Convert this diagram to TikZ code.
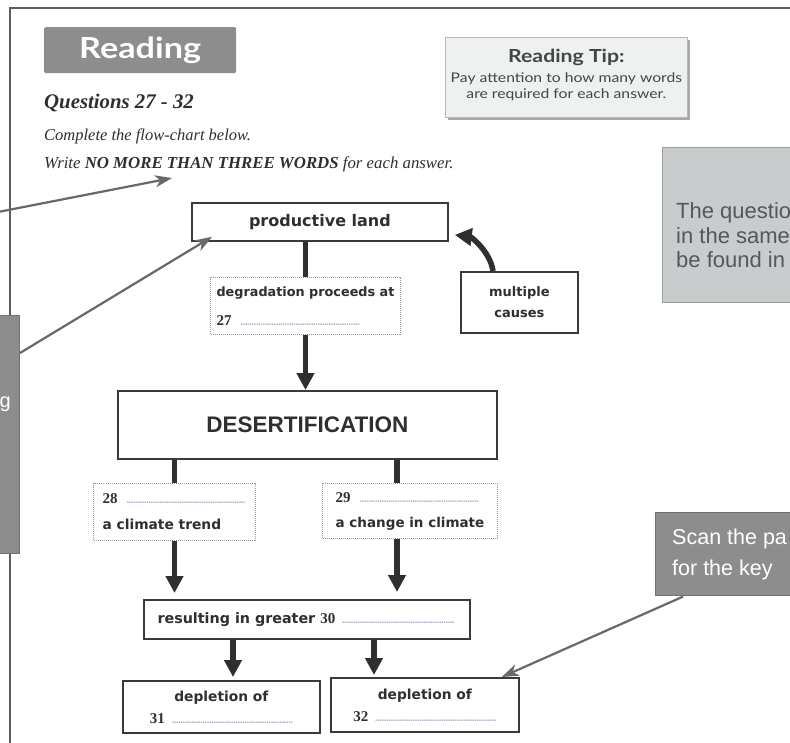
\documentclass[tikz,border=0pt]{standalone}
\usepackage{fontspec}
\setmainfont{Liberation Serif}
\newfontfamily\gillf[FakeStretch=1.18]{Lato}
\newfontfamily\flowf{DejaVu Sans}
\newfontfamily\helvf{Liberation Sans}
\usetikzlibrary{arrows.meta,calc,shadows}

\definecolor{framec}{HTML}{5E5E5E}
\definecolor{panelgrey}{HTML}{8D8D8D}
\definecolor{panellight}{HTML}{C9CCCC}
\definecolor{panelline}{HTML}{9C9E9E}
\definecolor{tipfill}{HTML}{EFF1F1}
\definecolor{inkc}{HTML}{2F2F2F}
\definecolor{boxc}{HTML}{3A3A3A}
\definecolor{dotc}{HTML}{AEB3C8}
\definecolor{pointerc}{HTML}{686868}
\definecolor{softtext}{HTML}{555858}

% dotted gap to be filled in by the reader
\newcommand\answerline[1]{{\color{dotc}\fontsize{8}{8}\selectfont\leaders\hbox to 2.2pt{\hss.\hss}\hskip#1\relax}}
% question number in the serif face
\newcommand\qnum[1]{{\rmfamily\bfseries\fontsize{15}{15}\selectfont #1}}

\begin{document}
\begin{tikzpicture}[x=1pt,y=-1pt,
  solidbox/.style={draw=boxc, line width=1.8pt, fill=white, inner sep=0pt,
    text=inkc, font=\flowf\bfseries\fontsize{13.8}{15}\selectfont},
  gapbox/.style={solidbox, draw=gray!80, line width=1pt, dash pattern=on 1pt off 1pt},
  flowarrow/.style={draw=inkc, line width=5.5pt, -{Triangle[width=17pt,length=17pt]}},
  flowstem/.style={draw=inkc, line width=5.5pt},
  pointer/.style={draw=pointerc, line width=2.2pt, -{Stealth[width=12pt,length=17pt,inset=5pt]}},
  sidepanel/.style={fill=panelgrey, draw=panelgrey!80!black, line width=0.6pt, inner sep=0pt},
  plaintext/.style={inner sep=0pt, anchor=base west},
]
\clip (0,0) rectangle (790,742);
\fill[white] (0,0) rectangle (790,742);

% page frame
\draw[framec, line width=2pt] (10,745) -- (10,8) -- (795,8);

% heading
\node[fill=panelgrey, rounded corners=1.5pt, anchor=north west, minimum width=192pt,
      minimum height=46pt, inner sep=0pt, text=white,
      font=\gillf\bfseries\fontsize{29}{30}\selectfont] (heading) at (44,27) {Reading};

\node[plaintext, font=\bfseries\itshape\fontsize{20.8}{21}\selectfont, text=inkc]
  (questions) at (44,108) {Questions 27 - 32};
\node[plaintext, font=\itshape\fontsize{16.5}{17}\selectfont, text=inkc]
  (complete) at (44,140) {Complete the flow-chart below.};
\node[plaintext, font=\itshape\fontsize{16.8}{17}\selectfont, text=inkc]
  (writeline) at (44,168) {Write \textbf{NO MORE THAN THREE WORDS} for each answer.};

% reading tip
\node[fill=tipfill, draw=gray!55, line width=0.8pt, anchor=north west,
      minimum width=242pt, minimum height=80pt, inner sep=0pt,
      drop shadow={shadow xshift=3pt, shadow yshift=-3pt, fill=gray!85, opacity=0.8}]
  (tipbox) at (445,37) {};
\node[inner sep=0pt, anchor=base, text=softtext!80!black,
      font=\gillf\bfseries\fontsize{18}{18}\selectfont]
  (tiptitle) at ($(tipbox.north)+(0,25)$) {Reading Tip:};
\node[inner sep=0pt, anchor=base, text=softtext!80!black,
      font=\gillf\fontsize{13.3}{14}\selectfont]
  (tipone) at ($(tipbox.north)+(0,45)$) {Pay attention to how many words};
\node[inner sep=0pt, anchor=base, text=softtext!80!black,
      font=\gillf\fontsize{13.3}{14}\selectfont]
  (tiptwo) at ($(tipbox.north)+(0,61)$) {are required for each answer.};

% side notes
\node[fill=panellight, draw=panelline, line width=0.8pt, anchor=north west,
      minimum width=140pt, minimum height=155pt, inner sep=0pt] (notebox) at (662,147) {};
\node[plaintext, text=softtext, font=\helvf\fontsize{22}{24}\selectfont]
  (noteone) at ($(notebox.north west)+(14,71)$) {The questio};
\node[plaintext, text=softtext, font=\helvf\fontsize{22}{24}\selectfont]
  (notetwo) at ($(notebox.north west)+(14,96)$) {in the same};
\node[plaintext, text=softtext, font=\helvf\fontsize{22}{24}\selectfont]
  (notethree) at ($(notebox.north west)+(14,120)$) {be found in};

\node[sidepanel, anchor=north west, minimum width=140pt, minimum height=83pt]
  (scanbox) at (655,512) {};
\node[plaintext, text=white, font=\helvf\fontsize{21.5}{24}\selectfont]
  (scanone) at ($(scanbox.north west)+(17,32)$) {Scan the pa};
\node[plaintext, text=white, font=\helvf\fontsize{21.5}{24}\selectfont]
  (scantwo) at ($(scanbox.north west)+(17,63)$) {for the key};

\node[sidepanel, anchor=north east, minimum width=30pt, minimum height=238pt]
  (leftpanel) at (20,315) {};
\node[inner sep=0pt, anchor=base east, text=white, font=\helvf\fontsize{20}{20}\selectfont]
  (lefttext) at (11,407) {g};

% flow chart
\node[solidbox, anchor=north west, minimum width=256pt, minimum height=38pt,
      font=\flowf\bfseries\fontsize{16}{16}\selectfont] (pland) at (191,202) {productive land};
\node[gapbox, anchor=north west, minimum width=190pt, minimum height=57pt, align=left,
      font=\flowf\bfseries\fontsize{12.8}{29}\selectfont] (degr) at (210,277)
  {degradation proceeds at\\\qnum{27}\hspace{7pt}\answerline{122pt}};
\node[solidbox, anchor=north west, minimum width=117pt, minimum height=61pt, align=center,
      font=\flowf\bfseries\fontsize{13}{21}\selectfont] (causes) at (460,271) {multiple\\causes};
\node[solidbox, anchor=north west, minimum width=379pt, minimum height=68pt,
      font=\helvf\bfseries\fontsize{22.5}{24}\selectfont] (desert) at (117,390) {DESERTIFICATION};
\node[gapbox, anchor=north west, minimum width=162pt, minimum height=57pt, align=left,
      font=\flowf\bfseries\fontsize{13.8}{26}\selectfont] (b28) at (93,483)
  {\qnum{28}\hspace{7pt}\answerline{122pt}\\a climate trend};
\node[gapbox, anchor=north west, minimum width=175pt, minimum height=55pt, align=left,
      font=\flowf\bfseries\fontsize{13.5}{25}\selectfont] (b29) at (322,483)
  {\qnum{29}\hspace{7pt}\answerline{122pt}\\a change in climate};
\node[solidbox, anchor=north west, minimum width=326pt, minimum height=39pt, align=left,
      font=\flowf\bfseries\fontsize{14.3}{15}\selectfont]
  (result) at (143,599) {resulting in greater \qnum{30}\hspace{6pt}\answerline{115pt}};
\node[solidbox, anchor=north west, minimum width=197pt, minimum height=52pt, align=center,
      font=\flowf\bfseries\fontsize{13.8}{22}\selectfont] (dep31) at (122,680)
  {depletion of\\\qnum{31}\hspace{6pt}\answerline{122pt}};
\node[solidbox, anchor=north west, minimum width=188pt, minimum height=54pt, align=center,
      font=\flowf\bfseries\fontsize{13.8}{22}\selectfont] (dep32) at (330,677)
  {depletion of\\\qnum{32}\hspace{6pt}\answerline{122pt}};

% stems and arrows of the chart
\coordinate (stem29) at ($(b29.north west)+(75,0)$);
\coordinate (foot29) at ($(b29.south west)+(75,0)$);
\coordinate (out31) at ($(result.south west)+(90,0)$);
\coordinate (out32) at ($(result.south west)+(231,0)$);
\coordinate (causefrom) at ($(causes.north west)+(33,0)$);
\coordinate (causeto) at ($(pland.east)+(6,13)$);

\draw[flowstem] (degr.north |- pland.south) -- (degr.north);
\draw[flowarrow] (degr.south) -- (degr.south |- desert.north);
\draw[flowarrow] (causefrom) .. controls +(-3,-20) and +(16,2) .. (causeto);
\draw[flowstem] (b28.north |- desert.south) -- (b28.north);
\draw[flowstem] (stem29 |- desert.south) -- (stem29);
\draw[flowarrow, shorten >=6pt] (b28.south) -- (b28.south |- result.north);
\draw[flowarrow, shorten >=7pt] (foot29) -- (foot29 |- result.north);
\draw[flowarrow, shorten >=3pt] (out31) -- (out31 |- dep31.north);
\draw[flowarrow, shorten >=2pt] (out32) -- (out32 |- dep32.north);

% pointers from the notes
\coordinate (offleft) at (-2,212);
\draw[pointer] (offleft) -- ($(writeline.base west)+(128,10)$);
\draw[pointer] ($(leftpanel.north east)+(0,38)$) -- ($(pland.south west)+(21,-5)$);
\draw[pointer] ($(scanbox.south west)+(28,1)$) -- ($(dep32.north east)+(-18,0)$);
\end{tikzpicture}
\end{document}
